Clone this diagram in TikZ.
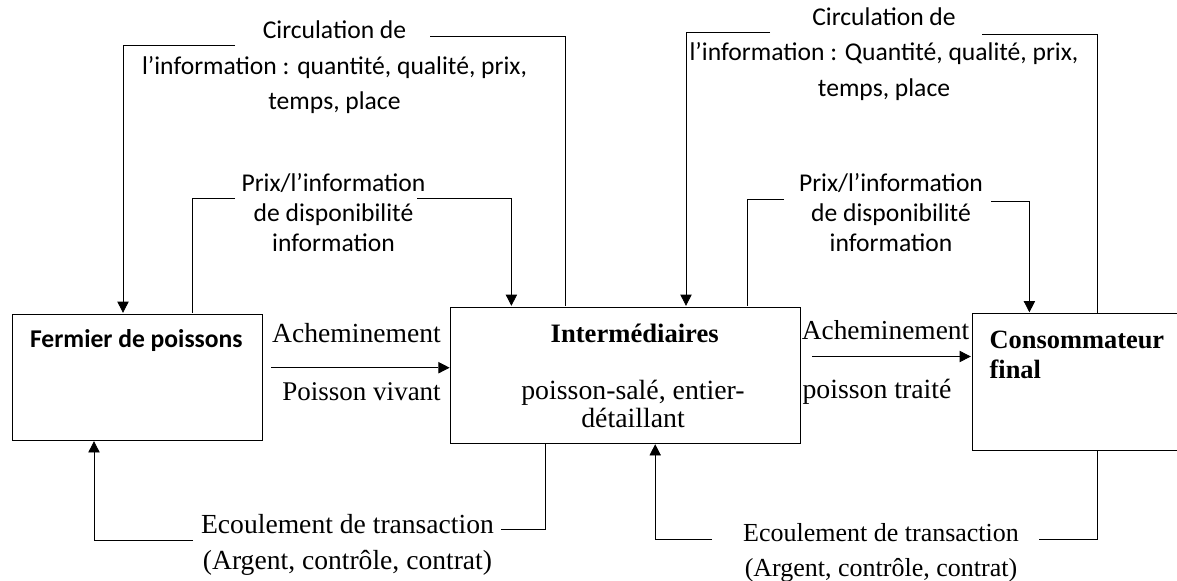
\documentclass[tikz,border=0pt]{standalone}
\usepackage{fontspec}
\setmainfont{Liberation Serif}
\newfontfamily\calibri{Carlito}
\usetikzlibrary{arrows.meta}

\begin{document}
\begin{tikzpicture}
                \tikzset{x=0.5pt, y=-0.5pt, line width=0.65pt}
                \tikzstyle{box}=[rectangle, draw, inner sep=0pt]
                \tikzstyle{info}=[align=center, inner sep=0pt, font=\calibri\fontsize{12.8}{17.75}\selectfont]
                \tikzstyle{prix}=[align=center, inner sep=0pt, font=\calibri\fontsize{12.8}{15}\selectfont]
                \tikzstyle{flow}=[-{Triangle[length=6pt, width=6pt]}]

                \useasboundingbox (0,0) rectangle (1177,580);

                % actors
                \draw (137, 377)    node[box, minimum width=125pt, minimum height=63pt]     (fermier)   {};
                \draw (625.4, 375)  node[box, minimum width=174.6pt, minimum height=68pt]   (inter)     {};
                \draw (1086, 382)   node[box, minimum width=114pt, minimum height=68.5pt]   (conso)     {};

                \draw (136.4, 341)  node[inner sep=0pt, font=\calibri\bfseries\fontsize{12.8}{15}\selectfont] (fermierlbl) {Fermier de poissons};
                \draw (634.7, 333)  node[inner sep=0pt, font=\bfseries\fontsize{13.3}{15}\selectfont] (interlbl) {Intermédiaires};
                \draw (633, 404)    node[align=center, inner sep=0pt, font=\fontsize{13.9}{14}\selectfont] (intertyp) {poisson-salé, entier-\\détaillant};
                \draw (989, 355)    node[anchor=west, align=left, inner sep=0pt, font=\bfseries\fontsize{13.2}{15}\selectfont] (consolbl) {Consommateur\\final};

                % information flows
                \draw (334.5, 67.5) node[info]  (circ1) {Circulation de\\l’information : quantité, qualité, prix,\\temps, place};
                \draw (884, 54)     node[info]  (circ2) {Circulation de\\l’information : Quantité, qualité, prix,\\temps, place};
                \draw (333.5, 213)  node[prix]  (prix1) {Prix/l’information\\de disponibilité\\information};
                \draw (891, 213)    node[prix]  (prix2) {Prix/l’information\\de disponibilité\\information};

                \coordinate (c1a) at (235, 45);
                \coordinate (c1b) at (430, 36);
                \coordinate (p1a) at (235, 198);
                \coordinate (p1b) at (417, 198);
                \coordinate (c2a) at (770, 32);
                \coordinate (c2b) at (982, 34);
                \coordinate (p2a) at (784, 199);
                \coordinate (p2b) at (991, 201);

                \draw [flow]        (c1a) -| ([xshift=-7pt]fermier.north);
                \draw               (c1b) -| ([xshift=-30.2pt]inter.north);
                \draw               (p1a) -| ([xshift=27.5pt]fermier.north);
                \draw [flow]        (p1b) -| ([xshift=-57pt]inter.north);
                \draw [flow]        (c2a) -| ([xshift=30.3pt]inter.north);
                \draw               (c2b) -| ([xshift=5.5pt]conso.north);
                \draw               (p2a) -| ([xshift=60.8pt]inter.north);
                \draw [flow]        (p2b) -| ([xshift=-28.3pt]conso.north);

                % physical flows
                \draw (356.5, 333)  node[inner sep=0pt, font=\fontsize{13.8}{14}\selectfont] (ach1) {Acheminement};
                \draw (361.6, 392)  node[inner sep=0pt, font=\fontsize{13.5}{14}\selectfont] (viv)  {Poisson vivant};
                \draw (885.5, 330)  node[inner sep=0pt, font=\fontsize{13.7}{14}\selectfont] (ach2) {Acheminement};
                \draw (877, 392)    node[inner sep=0pt, font=\fontsize{13.9}{14}\selectfont] (trait) {poisson traité};

                \coordinate (a1) at (271, 367.7);
                \coordinate (a2) at (812, 356.5);
                \draw [flow]        (a1) -- (a1 -| inter.west);
                \draw [flow]        (a2) -- (a2 -| conso.west);

                % transaction flows
                \draw (347.5, 545)  node[align=center, inner sep=0pt, font=\fontsize{13.8}{18.3}\selectfont] (ecoul1) {Ecoulement de transaction\\(Argent, contrôle, contrat)};
                \draw (881, 552.5)  node[align=center, inner sep=0pt, font=\fontsize{13}{17.5}\selectfont] (ecoul2) {Ecoulement de transaction\\(Argent, contrôle, contrat)};

                \coordinate (e1a) at (193, 540);
                \coordinate (e1b) at (501, 529);
                \coordinate (e2a) at (712, 539);
                \coordinate (e2b) at (1039, 539);

                \draw [flow]        (e1a) -| ([xshift=-21.5pt]fermier.south);
                \draw               (e1b) -| ([xshift=-40.2pt]inter.south);
                \draw [flow]        (e2a) -| ([xshift=14.9pt]inter.south);
                \draw               (e2b) -| ([xshift=5.5pt]conso.south);
            \end{tikzpicture}
\end{document}
